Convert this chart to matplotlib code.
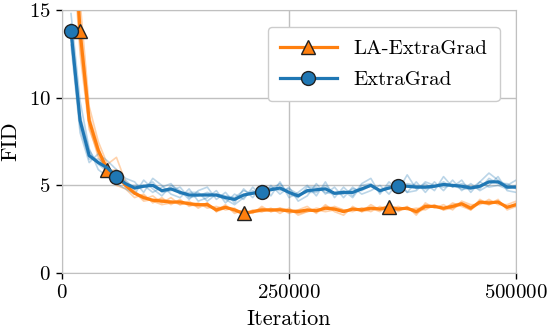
import numpy as np
import matplotlib
matplotlib.use("Agg")
import matplotlib.pyplot as plt

plt.rcParams["font.family"] = "cmr10"
plt.rcParams["mathtext.fontset"] = "cm"
plt.rcParams["axes.formatter.use_mathtext"] = True

# iterations (every 10k)
iters = np.arange(10000, 500001, 10000)

# ExtraGrad: mean curve and individual seeds
eg_mean = [13.8, 8.7, 6.7, 6.3, 6.0, 5.5, 5.1, 4.85, 4.95, 5.0, 4.7, 4.8, 4.6, 4.45, 4.45,
           4.45, 4.45, 4.3, 4.2, 4.45, 4.55, 4.65, 4.75, 4.85, 4.6, 4.4, 4.7, 4.75, 4.8, 4.55,
           4.6, 4.6, 4.8, 5.0, 4.7, 4.85, 4.95, 4.95, 4.9, 4.9, 4.95, 5.05, 5.0, 4.95, 4.85,
           4.95, 5.2, 5.2, 4.9, 4.9]
eg_seed1 = [14.8, 9.8, 7.1, 5.9, 5.5, 5.1, 4.8, 4.5, 5.3, 4.8, 4.4, 5.0, 4.7, 4.2, 4.7,
            4.9, 4.2, 4.6, 4.0, 4.8, 4.3, 5.0, 4.4, 5.2, 4.3, 4.6, 5.0, 4.4, 5.2, 4.3,
            4.9, 4.4, 5.1, 5.4, 4.5, 5.2, 4.7, 5.6, 4.8, 5.1, 4.7, 5.5, 4.9, 5.3, 4.6,
            5.2, 5.7, 5.3, 5.0, 5.3]
eg_seed2 = [13.0, 8.0, 6.3, 6.8, 6.4, 5.9, 5.4, 5.2, 4.6, 5.4, 5.0, 4.5, 4.3, 4.8, 4.1,
            4.3, 4.7, 4.0, 4.5, 4.2, 4.9, 4.4, 5.0, 4.5, 4.9, 4.1, 4.4, 5.1, 4.5, 4.9,
            4.3, 4.9, 4.5, 4.7, 5.0, 4.5, 5.2, 4.6, 5.2, 4.6, 5.2, 4.7, 5.3, 4.7, 5.1,
            4.7, 5.0, 5.5, 4.7, 4.6]
eg_seed3 = [14.2, 9.0, 7.0, 6.2, 5.8, 5.7, 5.0, 5.0, 5.0, 4.6, 4.9, 5.1, 4.5, 4.6, 4.6,
            4.1, 4.5, 4.4, 4.3, 4.7, 4.5, 4.7, 4.9, 4.7, 4.8, 4.5, 4.6, 4.6, 5.0, 4.5,
            4.7, 4.3, 5.0, 5.1, 4.6, 5.0, 4.8, 5.1, 5.0, 4.8, 4.9, 5.2, 4.9, 5.1, 4.9,
            4.8, 5.4, 5.1, 5.1, 4.8]
eg_seed4 = [13.4, 8.3, 6.5, 6.5, 6.1, 5.3, 5.3, 4.8, 4.9, 5.2, 4.6, 4.7, 4.9, 4.3, 4.4,
            4.6, 4.4, 4.2, 3.9, 4.3, 4.7, 4.5, 4.8, 5.1, 4.5, 4.3, 4.9, 4.9, 4.6, 4.5,
            4.5, 4.8, 4.7, 5.0, 4.7, 4.8, 5.2, 4.6, 4.7, 5.2, 5.0, 4.9, 5.0, 4.8, 4.8,
            5.2, 4.9, 5.0, 4.8, 5.0]

# LA-ExtraGrad: mean curve and individual seeds
la_mean = [22.0, 13.8, 8.7, 7.0, 5.9, 5.6, 5.0, 4.55, 4.3, 4.15, 4.1, 4.05, 4.05, 3.95, 3.9,
           3.9, 3.6, 3.75, 3.6, 3.4, 3.5, 3.6, 3.6, 3.6, 3.55, 3.5, 3.6, 3.55, 3.7, 3.65,
           3.5, 3.65, 3.6, 3.7, 3.65, 3.75, 3.65, 3.7, 3.5, 3.8, 3.8, 3.7, 3.8, 3.95, 3.7,
           4.05, 4.0, 4.05, 3.75, 3.9]
la_seed1 = [25.0, 15.5, 9.5, 7.5, 6.2, 6.6, 5.2, 4.7, 4.2, 4.4, 4.0, 4.3, 3.9, 4.1, 3.7,
            4.0, 3.5, 3.9, 3.4, 3.6, 3.4, 3.8, 3.5, 3.7, 3.4, 3.6, 3.8, 3.4, 3.9, 3.5,
            3.3, 3.8, 3.5, 3.9, 3.6, 3.9, 3.5, 3.8, 3.3, 4.0, 3.7, 3.9, 3.6, 4.1, 3.9,
            3.9, 4.2, 3.9, 3.9, 4.1]
la_seed2 = [20.0, 12.5, 8.2, 6.8, 5.6, 5.0, 4.8, 4.3, 4.5, 4.0, 4.3, 3.9, 4.2, 3.8, 4.0,
            3.7, 3.8, 3.6, 3.7, 3.3, 3.6, 3.5, 3.7, 3.4, 3.7, 3.3, 3.5, 3.7, 3.6, 3.8,
            3.6, 3.5, 3.7, 3.5, 3.8, 3.6, 3.8, 3.6, 3.7, 3.6, 3.9, 3.6, 4.0, 3.8, 3.6,
            4.2, 3.9, 4.2, 3.6, 3.8]
la_seed3 = [23.0, 14.2, 9.0, 7.2, 5.8, 5.9, 4.9, 4.6, 4.1, 4.2, 4.2, 4.1, 3.9, 4.0, 3.9,
            3.8, 3.7, 3.8, 3.5, 3.4, 3.5, 3.7, 3.5, 3.6, 3.5, 3.6, 3.6, 3.5, 3.8, 3.7,
            3.6, 3.6, 3.7, 3.7, 3.5, 3.8, 3.7, 3.7, 3.6, 3.9, 3.8, 3.7, 3.9, 4.0, 3.8,
            4.0, 4.1, 4.0, 3.8, 3.9]
la_seed4 = [20.5, 13.0, 8.4, 6.6, 6.0, 5.3, 5.1, 4.5, 4.4, 4.1, 3.9, 4.0, 4.1, 3.9, 3.8,
            4.0, 3.5, 3.7, 3.6, 3.3, 3.5, 3.5, 3.6, 3.7, 3.6, 3.4, 3.5, 3.6, 3.5, 3.6,
            3.5, 3.7, 3.5, 3.6, 3.7, 3.6, 3.6, 3.7, 3.4, 3.7, 3.8, 3.6, 3.7, 3.9, 3.6,
            4.0, 3.9, 4.1, 3.7, 4.0]

eg_marks = [0, 5, 21, 36]
la_marks = [1, 4, 19, 35]

fig = plt.figure(figsize=(5.48, 3.35), dpi=100)
ax = fig.add_axes([0.113, 0.185, 0.829, 0.785])

for s in [la_seed1, la_seed2, la_seed3, la_seed4]:
    ax.plot(iters, s, color="tab:orange", alpha=0.35, lw=1.2)
for s in [eg_seed1, eg_seed2, eg_seed3, eg_seed4]:
    ax.plot(iters, s, color="tab:blue", alpha=0.3, lw=1.2)

ax.plot(iters, la_mean, color="tab:orange", lw=2.3, marker="^", markevery=la_marks,
        markersize=9.5, markeredgecolor="#222222", markeredgewidth=1, label="LA-ExtraGrad")
ax.plot(iters, eg_mean, color="tab:blue", lw=2.3, marker="o", markevery=eg_marks,
        markersize=10, markeredgecolor="#222222", markeredgewidth=1, label="ExtraGrad")

ax.set_xlim(0, 500000)
ax.set_ylim(0, 15)
ax.set_xticks([0, 250000, 500000])
ax.set_yticks([0, 5, 10, 15])
ax.grid(True, color="#c0c0c0", lw=1)
ax.set_axisbelow(True)
for sp in ax.spines.values():
    sp.set_color("#c0c0c0")
ax.tick_params(direction="out", length=4, width=1, color="black", labelsize=15, pad=4)
ax.set_xlabel("Iteration", fontsize=16, labelpad=5)
ax.set_ylabel("FID", fontsize=16, labelpad=6)

leg = ax.legend(loc="upper right", fontsize=15, handlelength=2.7, borderaxespad=0.8,
                labelspacing=0.6, borderpad=0.6, framealpha=1, edgecolor="#cccccc",
                fancybox=True)

fig.savefig("out.png", dpi=100)
